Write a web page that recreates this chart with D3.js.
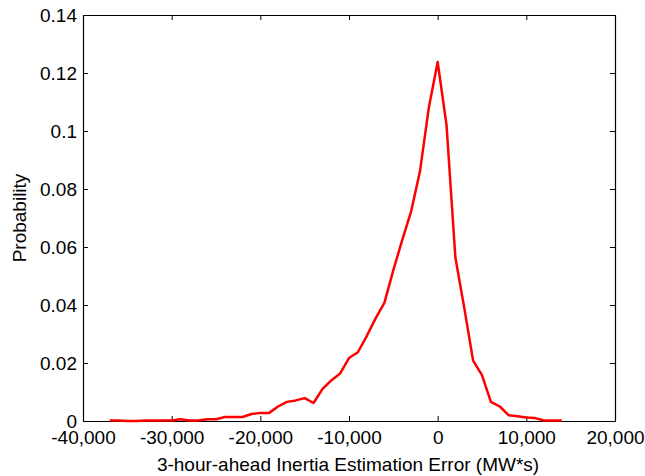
<!DOCTYPE html>
<html>
<head>
<meta charset="utf-8">
<script src="https://cdn.jsdelivr.net/npm/d3@7"></script>
<style>
  html, body { margin: 0; padding: 0; background: #fff; }
  svg { display: block; }
  text { font-family: Arial, "Liberation Sans", sans-serif; fill: #000; }
</style>
</head>
<body>
<svg id="chart" width="645" height="476"></svg>
<script>
// Data (error in MW*s, probability)
const errorValues = [-37000,-36000,-35000,-34000,-33000,-32000,-31000,-30000,-29000,-28000,-27000,-26000,-25000,-24000,-23000,-22000,-21000,-20000,-19000,-18000,-17000,-16000,-15000,-14000,-13000,-12000,-11000,-10000,-9000,-8000,-7000,-6000,-5000,-4000,-3000,-2000,-1000,0,1000,2000,3000,4000,5000,6000,7000,8000,9000,10000,11000,12000,13000,14000];
const probabilities = [0.0002,0.0002,0,0,0.0002,0.0002,0.0002,0.0002,0.0006,0.0002,0.0002,0.0006,0.0006,0.0014,0.0014,0.0014,0.0024,0.0028,0.0028,0.005,0.0066,0.0071,0.0079,0.0062,0.011,0.014,0.0164,0.0217,0.0237,0.0293,0.0354,0.0408,0.052,0.0624,0.0722,0.086,0.108,0.1238,0.102,0.0563,0.039,0.0208,0.0158,0.0066,0.005,0.002,0.0016,0.0012,0.001,0.0002,0.0002,0.0002];
const xTicks = [-40000,-30000,-20000,-10000,0,10000,20000];
const yTicks = [0,0.02,0.04,0.06,0.08,0.1,0.12,0.14];
const xLabel = "3-hour-ahead Inertia Estimation Error (MW*s)";
const yLabel = "Probability";

const svg = d3.select("#chart");
const mLeft = 83, mRight = 615, mTop = 15, mBottom = 421;
const fontSize = 19;

const x = d3.scaleLinear().domain([-40000, 20000]).range([mLeft, mRight]);
const y = d3.scaleLinear().domain([0, 0.14]).range([mBottom, mTop]);

const fmtX = d => d === 0 ? "0" : d3.format(",")(d).replace("\u2212", "-");
const fmtY = d => d === 0 ? "0" : String(+d.toFixed(2));

const tickLen = 5;
const gB = svg.append("g").attr("transform", `translate(0,${mBottom})`)
  .call(d3.axisBottom(x).tickValues(xTicks).tickFormat(fmtX).tickSizeInner(-tickLen).tickSizeOuter(0).tickPadding(10));
const gT = svg.append("g").attr("transform", `translate(0,${mTop})`)
  .call(d3.axisTop(x).tickValues(xTicks).tickFormat("").tickSizeInner(-tickLen).tickSizeOuter(0));
const gL = svg.append("g").attr("transform", `translate(${mLeft},0)`)
  .call(d3.axisLeft(y).tickValues(yTicks).tickFormat(fmtY).tickSizeInner(-tickLen).tickSizeOuter(0).tickPadding(6));
const gR = svg.append("g").attr("transform", `translate(${mRight},0)`)
  .call(d3.axisRight(y).tickValues(yTicks).tickFormat("").tickSizeInner(-tickLen).tickSizeOuter(0));

[gB, gT, gL, gR].forEach(g => {
  g.selectAll(".domain").attr("stroke", "#000").attr("stroke-width", 1.2);
  g.selectAll(".tick line").attr("stroke", "#000").attr("stroke-width", 1);
  g.selectAll(".tick text").attr("font-size", fontSize).attr("font-family", "Arial, 'Liberation Sans', sans-serif").attr("fill", "#000");
});

const line = d3.line()
  .x((d, i) => x(errorValues[i]))
  .y(d => y(d));
svg.append("path")
  .datum(probabilities)
  .attr("fill", "none")
  .attr("stroke", "#ff0000")
  .attr("stroke-width", 2.5)
  .attr("stroke-linejoin", "round")
  .attr("d", line);

svg.append("text")
  .attr("x", 348)
  .attr("y", 471)
  .attr("text-anchor", "middle")
  .attr("font-size", fontSize)
  .text(xLabel);

svg.append("text")
  .attr("transform", `translate(26,${(mTop + mBottom) / 2}) rotate(-90)`)
  .attr("text-anchor", "middle")
  .attr("font-size", fontSize)
  .text(yLabel);
</script>
</body>
</html>
